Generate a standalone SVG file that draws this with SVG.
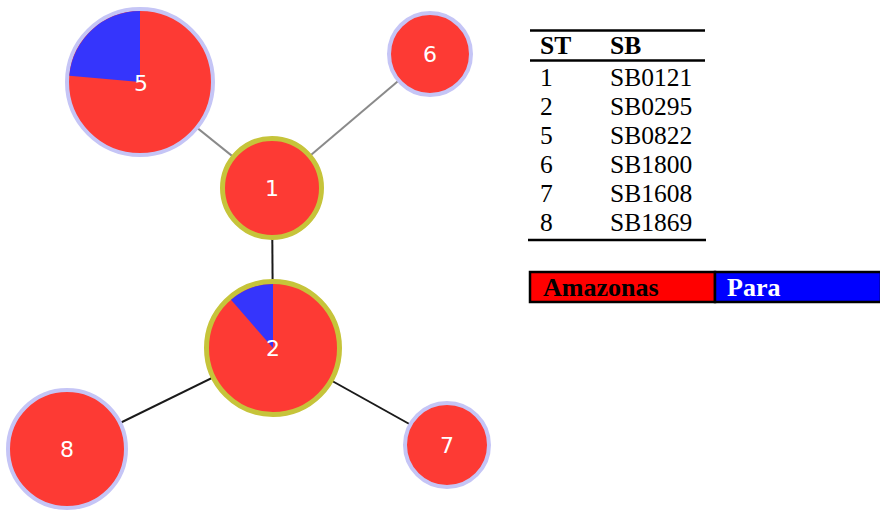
<svg xmlns="http://www.w3.org/2000/svg" width="880" height="512" viewBox="0 0 880 512">
<style>
.node{fill:#fd3a34}
.lav{stroke:#c5c5f6;stroke-width:4}
.yel{stroke:#c6c43a;stroke-width:5}
.wedge{fill:#3535fc}
.lbl{font-family:"DejaVu Sans",sans-serif;font-size:22px;fill:#ffffff;text-anchor:middle}
.edge{stroke-width:2;fill:none}
.gray{stroke:#8a8a8a}
.dark{stroke:#1a1a1a}
.tb{font-family:"Liberation Serif",serif;font-size:25.5px;fill:#000}
.tbh{font-family:"Liberation Serif",serif;font-size:25.5px;font-weight:bold;fill:#000}
.rule{stroke:#000;stroke-width:2.5}
</style>
<rect width="880" height="512" fill="#ffffff"/>
<g id="connectors">
<line class="edge gray" x1="140" y1="82" x2="272" y2="188"/>
<line class="edge gray" x1="430" y1="54" x2="272" y2="188"/>
<line class="edge dark" x1="272" y1="188" x2="273" y2="348"/>
<line class="edge dark" x1="273" y1="348" x2="67" y2="449"/>
<line class="edge dark" x1="273" y1="348" x2="447" y2="445"/>
</g>
<g id="node5">
<circle class="node lav" cx="140" cy="82" r="73"/>
<path class="wedge" d="M140,82 L140,11 A71,71 0 0 0 69.3,75.8 Z"/>
<text class="lbl" x="141" y="91">5</text>
</g>
<g id="node6">
<circle class="node lav" cx="430" cy="54" r="41"/>
<text class="lbl" x="430" y="62">6</text>
</g>
<g id="node1">
<circle class="node yel" cx="272" cy="188" r="49.5"/>
<text class="lbl" x="272" y="196">1</text>
</g>
<g id="node2">
<circle class="node yel" cx="273" cy="348" r="66.5"/>
<path class="wedge" d="M273,348 L273,284 A64,64 0 0 0 231,299.7 Z"/>
<text class="lbl" x="273" y="356">2</text>
</g>
<g id="node8">
<circle class="node lav" cx="67" cy="449" r="59"/>
<text class="lbl" x="67" y="457">8</text>
</g>
<g id="node7">
<circle class="node lav" cx="447" cy="445" r="42"/>
<text class="lbl" x="447" y="453">7</text>
</g>
<g id="table">
<line class="rule" x1="530" y1="30.5" x2="705" y2="30.5"/>
<text class="tbh" x="540" y="54">ST</text>
<text class="tbh" x="610" y="54">SB</text>
<line class="rule" x1="530" y1="60.5" x2="705" y2="60.5"/>
<text class="tb" x="540" y="86">1</text><text class="tb" x="610" y="86">SB0121</text>
<text class="tb" x="540" y="115">2</text><text class="tb" x="610" y="115">SB0295</text>
<text class="tb" x="540" y="144">5</text><text class="tb" x="610" y="144">SB0822</text>
<text class="tb" x="540" y="173">6</text><text class="tb" x="610" y="173">SB1800</text>
<text class="tb" x="540" y="202">7</text><text class="tb" x="610" y="202">SB1608</text>
<text class="tb" x="540" y="231">8</text><text class="tb" x="610" y="231">SB1869</text>
<line class="rule" x1="528" y1="240" x2="706" y2="240"/>
</g>
<g id="legend">
<rect x="530" y="272" width="185" height="30" fill="#ff0000" stroke="#000" stroke-width="2.5"/>
<rect x="715" y="272" width="166" height="30" fill="#0000ff" stroke="#000" stroke-width="2.5"/>
<text class="tbh" x="543" y="296" style="font-size:26px">Amazonas</text>
<text class="tbh" x="727" y="296" style="fill:#ffffff;font-size:26px">Para</text>
</g>
</svg>
